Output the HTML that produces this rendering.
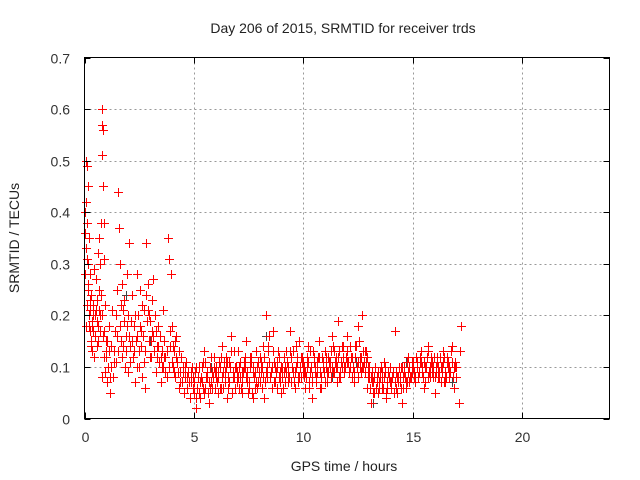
<!DOCTYPE html>
<html><head><meta charset="utf-8"><style>
body{margin:0;background:#fff;}
svg{display:block;font-family:"Liberation Sans",sans-serif;}
</style></head><body>
<svg id="chart" width="640" height="480" viewBox="0 0 640 480" xmlns="http://www.w3.org/2000/svg">
<rect width="640" height="480" fill="#fff"/>
<g id="grid"></g>
<g id="gray"></g>
<g id="red"></g>
<rect x="84.5" y="57.5" width="525" height="361" fill="none" stroke="#000" stroke-width="1"/>
<g id="axes" font-size="14" fill="#333"></g>
<text x="343" y="33" font-size="14" fill="#222" text-anchor="middle">Day 206 of 2015, SRMTID for receiver trds</text>
<text x="344" y="471" font-size="14" fill="#222" text-anchor="middle">GPS time / hours</text>
<text x="19" y="238" font-size="14" fill="#222" text-anchor="middle" transform="rotate(-90 19 238)">SRMTID / TECUs</text>
</svg>
<script>
const xTicks=[0,5,10,15,20];
const yTicks=[0,0.1,0.2,0.3,0.4,0.5,0.6,0.7];
const yTickLabels=["0","0.1","0.2","0.3","0.4","0.5","0.6","0.7"];
const redPoints=[[0.02,0.28],[0.04,0.40],[0.06,0.33],[0.08,0.50],[0.1,0.22],[0.12,0.38],[0.14,0.45],[0.16,0.30],[0.18,0.25],[0.2,0.18],[0.22,0.35],[0.24,0.21],[0.26,0.28],[0.28,0.15],[0.3,0.24],[0.32,0.19],[0.35,0.13],[0.38,0.22],[0.4,0.17],[0.42,0.29],[0.45,0.12],[0.48,0.2],[0.5,0.16],[0.52,0.27],[0.55,0.14],[0.58,0.23],[0.6,0.32],[0.62,0.18],[0.65,0.25],[0.68,0.35],[0.7,0.2],[0.72,0.3],[0.75,0.38],[0.78,0.57],[0.8,0.60],[0.82,0.51],[0.84,0.45],[0.86,0.56],[0.88,0.38],[0.9,0.31],[0.92,0.22],[0.8,0.08],[0.95,0.09],[0.98,0.15],
[0.03,0.36],[0.07,0.42],[0.11,0.31],[0.15,0.26],[0.19,0.2],[0.23,0.17],[0.27,0.23],[0.31,0.14],[0.36,0.18],[0.41,0.2],[0.46,0.16],[0.51,0.21],[0.56,0.19],[0.61,0.15],[0.66,0.21],[0.71,0.17],[0.76,0.24],[0.79,0.2],[0.83,0.16],[0.87,0.12],[0.91,0.17],[0.96,0.13],[0.13,0.49],[0.09,0.18],
[1.0,0.12],[1.05,0.07],[1.1,0.18],[1.15,0.05],[1.2,0.1],[1.25,0.21],[1.3,0.08],[1.35,0.13],[1.4,0.17],[1.45,0.11],[1.5,0.25],[1.55,0.44],[1.6,0.3],[1.65,0.22],[1.7,0.26],[1.75,0.14],[1.8,0.19],[1.85,0.1],[1.9,0.16],[1.95,0.28],[1.58,0.37],[1.72,0.12],[1.82,0.23],[1.98,0.2],
[1.03,0.15],[1.08,0.1],[1.13,0.13],[1.18,0.08],[1.23,0.14],[1.33,0.11],[1.43,0.2],[1.48,0.16],[1.53,0.13],[1.63,0.18],[1.68,0.15],[1.78,0.21],[1.88,0.13],[1.93,0.18],
[2.0,0.09],[2.05,0.34],[2.1,0.14],[2.15,0.24],[2.2,0.12],[2.25,0.18],[2.3,0.07],[2.35,0.15],[2.4,0.1],[2.45,0.2],[2.5,0.13],[2.55,0.25],[2.6,0.17],[2.65,0.22],[2.7,0.11],[2.75,0.06],[2.8,0.34],[2.85,0.19],[2.9,0.26],[2.95,0.15],[2.42,0.28],[2.62,0.08],[2.88,0.21],
[2.03,0.16],[2.08,0.11],[2.13,0.19],[2.18,0.15],[2.28,0.13],[2.33,0.2],[2.38,0.16],[2.48,0.1],[2.53,0.18],[2.58,0.14],[2.68,0.16],[2.73,0.21],[2.78,0.13],[2.83,0.24],[2.93,0.2],[2.98,0.12],
[3.0,0.19],[3.05,0.12],[3.1,0.23],[3.15,0.16],[3.2,0.2],[3.25,0.09],[3.3,0.14],[3.35,0.18],[3.4,0.11],[3.45,0.16],[3.5,0.07],[3.55,0.13],[3.6,0.1],[3.65,0.15],[3.7,0.12],[3.75,0.08],[3.8,0.35],[3.85,0.31],[3.9,0.14],[3.95,0.28],[3.12,0.27],[3.58,0.21],
[3.03,0.15],[3.08,0.17],[3.18,0.13],[3.28,0.17],[3.33,0.12],[3.38,0.14],[3.48,0.12],[3.53,0.1],[3.63,0.12],[3.68,0.09],[3.78,0.13],[3.88,0.1],[3.93,0.17],[3.98,0.11],
[4.0,0.18],[4.05,0.1],[4.1,0.13],[4.15,0.08],[4.2,0.16],[4.25,0.11],[4.3,0.06],[4.35,0.09],[4.4,0.12],[4.45,0.07],[4.5,0.1],[4.55,0.05],[4.6,0.08],[4.65,0.11],[4.7,0.06],[4.75,0.09],[4.8,0.04],[4.85,0.07],[4.9,0.1],[4.95,0.06],
[4.03,0.14],[4.08,0.09],[4.13,0.15],[4.18,0.12],[4.28,0.09],[4.33,0.13],[4.38,0.07],[4.48,0.09],[4.58,0.1],[4.68,0.08],[4.78,0.07],[4.88,0.09],[4.98,0.08],
[5.0,0.05],[5.1,0.02],[5.2,0.08],[5.3,0.04],[5.4,0.11],[5.5,0.06],[5.6,0.09],[5.7,0.03],[5.8,0.07],[5.9,0.12],
[6.0,0.08],[6.1,0.05],[6.2,0.1],[6.3,0.14],[6.4,0.07],[6.5,0.04],[6.6,0.11],[6.7,0.16],[6.8,0.09],[6.9,0.06],
[7.0,0.13],[7.1,0.08],[7.2,0.05],[7.3,0.1],[7.4,0.15],[7.5,0.07],[7.6,0.11],[7.7,0.04],[7.8,0.09],[7.9,0.06],
[8.0,0.12],[8.1,0.06],[8.2,0.04],[8.3,0.2],[8.4,0.14],[8.5,0.08],[8.6,0.17],[8.7,0.1],[8.8,0.06],[8.9,0.12],
[9.0,0.05],[9.1,0.09],[9.2,0.13],[9.3,0.07],[9.4,0.17],[9.5,0.1],[9.6,0.06],[9.7,0.12],[9.8,0.15],[9.9,0.08],
[10.0,0.11],[10.1,0.06],[10.2,0.14],[10.3,0.09],[10.4,0.04],[10.5,0.12],[10.6,0.08],[10.7,0.15],[10.8,0.06],[10.9,0.1],
[11.0,0.13],[11.1,0.07],[11.2,0.1],[11.3,0.16],[11.4,0.09],[11.5,0.12],[11.6,0.19],[11.7,0.08],[11.8,0.14],[11.9,0.1],
[12.0,0.16],[12.1,0.09],[12.2,0.12],[12.3,0.07],[12.4,0.14],[12.5,0.18],[12.6,0.1],[12.7,0.2],[12.8,0.13],[12.9,0.06],
[13.0,0.08],[13.1,0.03],[13.2,0.07],[13.3,0.1],[13.4,0.05],[13.5,0.09],[13.6,0.06],[13.7,0.11],[13.8,0.04],[13.9,0.08],
[14.0,0.06],[14.1,0.09],[14.2,0.17],[14.3,0.05],[14.4,0.08],[14.5,0.03],[14.6,0.1],[14.7,0.06],[14.8,0.12],[14.9,0.08],
[15.0,0.1],[15.1,0.07],[15.2,0.11],[15.3,0.09],[15.4,0.13],[15.5,0.06],[15.6,0.1],[15.7,0.14],[15.8,0.08],[15.9,0.11],
[16.0,0.05],[16.1,0.12],[16.2,0.08],[16.3,0.1],[16.4,0.13],[16.5,0.07],[16.6,0.11],[16.7,0.09],[16.8,0.14],[16.9,0.06],[17.0,0.1],[17.1,0.03],[17.15,0.13],[17.2,0.18]];
const bandHours=[5,6,7,8,9,10,11,12,13,14,15,16];
const bandValuesA=[
[.09,.06,.1,.07,.13,.08,.05,.1,.06,.09],
[.07,.11,.06,.09,.12,.08,.1,.05,.13,.09],
[.1,.06,.09,.12,.07,.1,.05,.08,.13,.07],
[.09,.14,.07,.1,.16,.06,.11,.09,.13,.07],
[.1,.07,.11,.08,.12,.09,.14,.07,.1,.11],
[.08,.12,.07,.1,.13,.09,.11,.06,.12,.09],
[.1,.12,.08,.14,.11,.07,.13,.1,.09,.12],
[.11,.14,.08,.12,.1,.15,.09,.13,.11,.08],
[.06,.09,.05,.08,.07,.1,.06,.09,.07,.1],
[.08,.05,.09,.07,.1,.06,.08,.11,.07,.09],
[.09,.12,.08,.11,.1,.07,.12,.09,.11,.08],
[.1,.08,.12,.09,.07,.11,.1,.13,.08,.11]];
const bandValuesB=[
[.07,.1,.05,.08,.06,.11,.08,.06,.09,.1],
[.1,.08,.12,.06,.09,.11,.07,.13,.08,.1],
[.08,.11,.07,.1,.09,.06,.12,.1,.07,.11],
[.07,.1,.12,.08,.11,.09,.13,.07,.1,.09],
[.08,.12,.09,.1,.07,.13,.09,.11,.08,.12],
[.1,.08,.11,.13,.07,.1,.09,.12,.08,.11],
[.12,.09,.11,.1,.13,.1,.08,.11,.12,.1],
[.13,.1,.12,.09,.14,.11,.12,.1,.09,.12],
[.1,.07,.08,.06,.09,.08,.07,.1,.06,.08],
[.07,.09,.06,.08,.07,.1,.09,.07,.1,.08],
[.11,.08,.1,.12,.09,.11,.1,.08,.12,.1],
[.08,.11,.09,.1,.12,.08,.1,.09,.11,.1]];
const bandValuesC=[
[.04,.08,.07,.1,.05,.09,.07,.12,.08,.06],
[.09,.06,.08,.11,.1,.06,.13,.08,.1,.07],
[.06,.09,.11,.08,.05,.12,.09,.06,.1,.09],
[.11,.08,.09,.13,.08,.1,.07,.11,.08,.1],
[.06,.1,.08,.13,.1,.07,.1,.08,.12,.09],
[.09,.1,.06,.08,.11,.07,.12,.09,.1,.07],
[.09,.11,.13,.09,.1,.12,.09,.14,.1,.11],
[.09,.12,.1,.14,.08,.12,.1,.11,.13,.1],
[.08,.05,.1,.07,.06,.09,.08,.05,.09,.07],
[.09,.07,.08,.1,.06,.08,.07,.09,.08,.11],
[.08,.1,.09,.11,.08,.1,.13,.1,.09,.12],
[.09,.1,.07,.11,.09,.12,.08,.11,.1,.08]];
const grayPoints=[[0.5,0.2],[1.9,0.24],[3.0,0.15],[5.8,0.1],[8.3,0.16],[9.6,0.09],[11.3,0.08],[12.4,0.11],[13.2,0.03],[14.7,0.11],[15.9,0.09],[16.8,0.07]];

const NS="http://www.w3.org/2000/svg";
const X0=84.5,X1=609.5,Y0=418.5,Y1=57.5;
function xs(v){return X0+v/24*(X1-X0);}
function ys(v){return Y0-v/0.7*(Y0-Y1);}
function el(t,a,p){const e=document.createElementNS(NS,t);for(const k in a)e.setAttribute(k,a[k]);p.appendChild(e);return e;}
const grid=document.getElementById('grid'),axes=document.getElementById('axes');
xTicks.forEach(t=>{
  const x=Math.round(xs(t))+0.5;
  if(t>0){const g=el('line',{x1:x,x2:x,y1:Y1,y2:Y0,stroke:'#999','stroke-dasharray':'2,3'},grid);
  
  }
  const tk=el('path',{d:`M${x} ${Y0}v-6M${x} ${Y1}v6`,stroke:'#000'},axes);
  
  
  const l=el('text',{x:x,y:442,'text-anchor':'middle'},axes);l.textContent=t;
  
  
});
yTicks.forEach((t,i)=>{
  const y=Math.round(ys(t))+0.5;
  if(i>0&&i<yTicks.length-1){const g=el('line',{x1:X0,x2:X1,y1:y,y2:y,stroke:'#999','stroke-dasharray':'2,3'},grid);
  
  }
  const tk=el('path',{d:`M${X0} ${y}h6M${X1} ${y}h-6`,stroke:'#000'},axes);
  
  
  const l=el('text',{x:70,y:y+5,'text-anchor':'end'},axes);l.textContent=yTickLabels[i];
  
  
});
function plus(p,t,v,c,name){
  const x=Math.round(xs(t))+0.5,y=Math.round(ys(v))+0.5;
  const m=el('path',{d:`M${x-4.5} ${y}h9M${x} ${y-4.5}v9`,stroke:c,'stroke-width':1},p);
  
  
}
const gray=document.getElementById('gray'),red=document.getElementById('red');
grayPoints.forEach(p=>plus(gray,p[0],p[1],'#444','gray-point'));
redPoints.forEach(p=>plus(red,p[0],p[1],'#f00','red-point'));
bandHours.forEach((h,i)=>bandValuesA[i].forEach((v,j)=>plus(red,h+0.05+0.1*j,v,'#f00','red-point')));
bandHours.forEach((h,i)=>bandValuesB[i].forEach((v,j)=>plus(red,h+0.02+0.1*j,v,'#f00','red-point')));
bandHours.forEach((h,i)=>bandValuesC[i].forEach((v,j)=>plus(red,h+0.08+0.1*j,v,'#f00','red-point')));
</script>
</body></html>
